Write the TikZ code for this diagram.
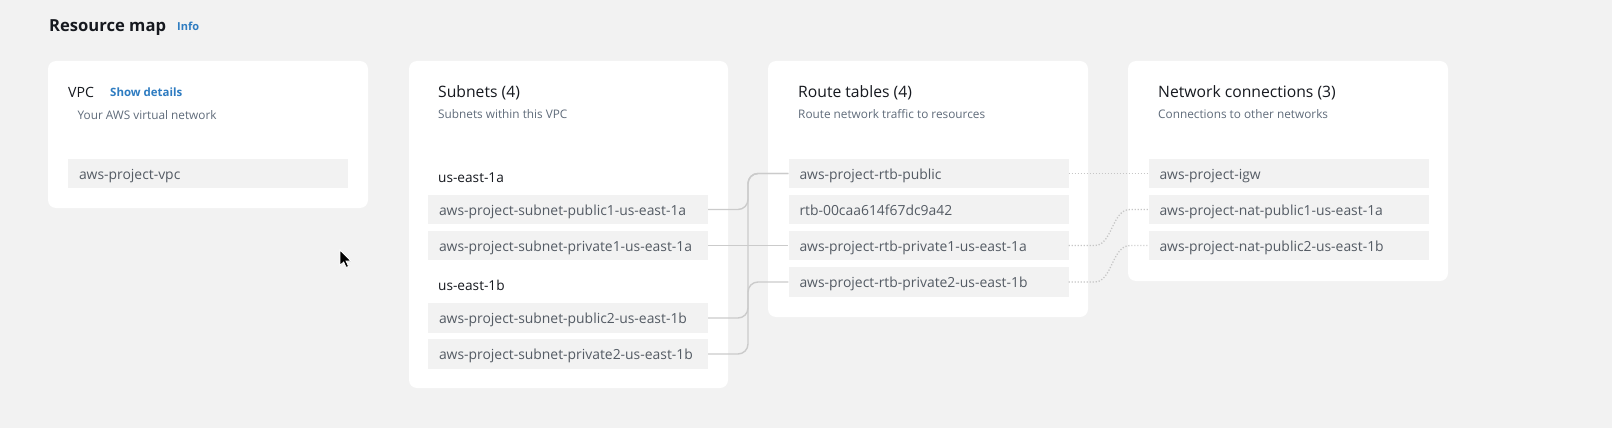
\documentclass[tikz,border=0pt]{standalone}
\usepackage{fontspec}
\setmainfont{Open Sans}
\definecolor{pagebg}{HTML}{F2F2F2}
\definecolor{itembg}{HTML}{F2F2F2}
\definecolor{titlec}{HTML}{16191F}
\definecolor{subc}{HTML}{5F6B7A}
\definecolor{itemc}{HTML}{545B64}
\definecolor{linkc}{HTML}{2E7CC1}
\definecolor{linec}{HTML}{CBCBCB}
\definecolor{dotc}{HTML}{C6C6C6}
\begin{document}
\begin{tikzpicture}[x=1pt,y=-1pt,
  card/.style={fill=white, rounded corners=8pt},
  item/.style={fill=itembg, minimum width=280pt, minimum height=29.5pt, text width=258pt,
    inner xsep=11pt, inner ysep=0pt, align=left, text height=13pt, text depth=2pt,
    font=\fontsize{13.9pt}{16pt}\selectfont, text=itemc},
  cardtitle/.style={anchor=base west, inner sep=0pt, font=\fontsize{15.7pt}{18pt}\selectfont, text=titlec},
  cardsub/.style={anchor=base west, inner sep=0pt, font=\fontsize{11.8pt}{14pt}\selectfont, text=subc},
  zone/.style={anchor=base west, inner sep=0pt, font=\fontsize{13.65pt}{16pt}\selectfont, text=titlec},
  link/.style={anchor=base west, inner sep=0pt, font=\bfseries\fontsize{11.45pt}{14pt}\selectfont, text=linkc},
  conn/.style={draw=linec, line width=1.4pt, rounded corners=10pt},
  dotconn/.style={draw=dotc, line width=1.3pt, dash pattern=on 1.2pt off 1.8pt}
]
% page
\fill[pagebg] (0,0) rectangle (1612,428);
\useasboundingbox (0,0) rectangle (1612,428);

% heading
\node[anchor=base west, inner sep=0pt, font=\bfseries\fontsize{16.6pt}{19pt}\selectfont, text=titlec] (heading) at (49,31.5) {Resource map};
\node[link, font=\bfseries\fontsize{11pt}{13pt}\selectfont] (info) at (177,30.7) {Info};

% cards
\fill[card] (48,61) rectangle (368,208);
\fill[card] (409,61) rectangle (728,388);
\fill[card] (768,61) rectangle (1088,317);
\fill[card] (1128,61) rectangle (1448,281);

% VPC card
\node[cardtitle, font=\fontsize{14.1pt}{17pt}\selectfont] (vpct) at (68,97.3) {VPC};
\node[link] (showd) at (110,96.8) {Show details};
\node[cardsub] (vpcs) at (77.5,119.3) {Your AWS virtual network};
\node[item] (vpc) at (208,173.5) {aws-project-vpc};

% Subnets card
\node[cardtitle] (subt) at (438,97.3) {Subnets (4)};
\node[cardsub] (subs) at (438,118) {Subnets within this VPC};
\node[zone] (za) at (438,182.7) {us-east-1a};
\node[item] (s1) at (568,209.5) {aws-project-subnet-public1-us-east-1a};
\node[item] (s2) at (568,245.5) {aws-project-subnet-private1-us-east-1a};
\node[zone] (zb) at (438,290.7) {us-east-1b};
\node[item] (s3) at (568,318) {aws-project-subnet-public2-us-east-1b};
\node[item] (s4) at (568,354) {aws-project-subnet-private2-us-east-1b};

% Route tables card
\node[cardtitle] (rtt) at (798,97.3) {Route tables (4)};
\node[cardsub] (rts) at (798,118) {Route network traffic to resources};
\node[item] (r1) at (928.5,173.5) {aws-project-rtb-public};
\node[item] (r2) at (928.5,209.5) {rtb-00caa614f67dc9a42};
\node[item] (r3) at (928.5,245.5) {aws-project-rtb-private1-us-east-1a};
\node[item] (r4) at (928.5,282) {aws-project-rtb-private2-us-east-1b};

% Network connections card
\node[cardtitle] (nct) at (1158,97.3) {Network connections (3)};
\node[cardsub] (ncs) at (1158,118) {Connections to other networks};
\node[item] (n1) at (1288.5,173.5) {aws-project-igw};
\node[item] (n2) at (1288.5,209.5) {aws-project-nat-public1-us-east-1a};
\node[item] (n3) at (1288.5,245.5) {aws-project-nat-public2-us-east-1b};

% solid connectors subnets -> route tables
\coordinate (bus) at (748,0);
\draw[conn] (s1.east) -- (bus |- s1.east) -- (bus |- r1.west) -- (r1.west);
\draw[conn] (s3.east) -- (bus |- s3.east) -- (bus |- r1.west) -- (r1.west);
\draw[conn] (s4.east) -- (bus |- s4.east) -- (bus |- r4.west) -- (r4.west);
\draw[conn] (s2.east) -- (r3.west);

% dotted connectors route tables -> network connections
\coordinate (dl) at (1095,0);
\coordinate (dm) at (1112,0);
\coordinate (dr) at (1130,0);
\draw[dotconn] (r1.east) -- (n1.west);
\draw[dotconn] (r3.east) -- (dl |- r3.east) .. controls (dm |- r3.east) and (dm |- n2.west) .. (dr |- n2.west) -- (n2.west);
\draw[dotconn] (r4.east) -- (dl |- r4.east) .. controls (dm |- r4.east) and (dm |- n3.west) .. (dr |- n3.west) -- (n3.west);

% mouse pointer
\begin{scope}[shift={(340,250)}]
\filldraw[fill=black, draw=white, line width=0.8pt, line join=miter]
  (0,0) -- (0,15.5) -- (3.6,12) -- (6.2,17.5) -- (8.6,16.4) -- (6,11) -- (11,11) -- cycle;
\end{scope}
\end{tikzpicture}
\end{document}
